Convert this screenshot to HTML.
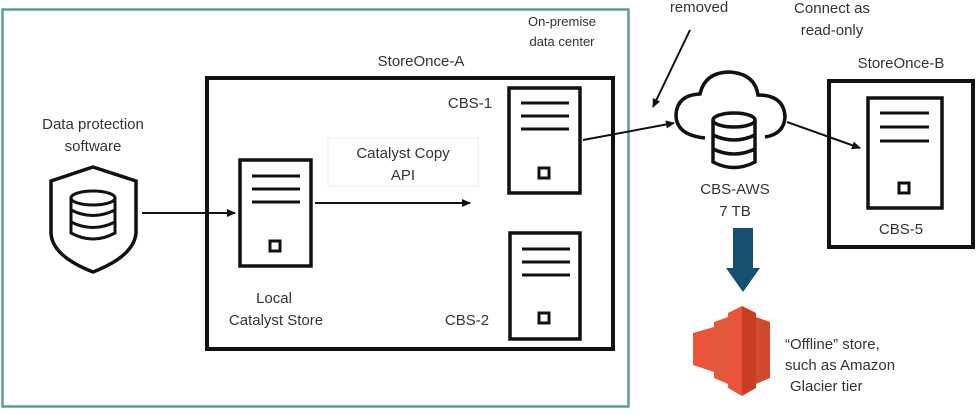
<!DOCTYPE html>
<html><head><style>
body{margin:0;background:#fff;}
svg text{font-family:"Liberation Sans",sans-serif;fill:#333;}
</style></head><body>
<svg width="977" height="410" viewBox="0 0 977 410" xmlns="http://www.w3.org/2000/svg">
<defs><marker id="a" markerWidth="10" markerHeight="10" refX="8" refY="4" orient="auto" markerUnits="userSpaceOnUse"><path d="M0,0 L9,4 L0,8 z" fill="#111"/></marker></defs>
<rect x="2.5" y="9.5" width="626" height="397" fill="none" stroke="#5e9e8c" stroke-width="2.5"/>
<rect x="207" y="78" width="406" height="271" fill="none" stroke="#111" stroke-width="4"/>
<rect x="829" y="81" width="144" height="166" fill="none" stroke="#111" stroke-width="4"/>
<rect x="328" y="138" width="150" height="48" fill="#fff" stroke="#eee"/>
<g fill="none" stroke="#111" stroke-width="3.5">
<rect x="240" y="160" width="71" height="106"/>
<rect x="509" y="88" width="71" height="105"/>
<rect x="510" y="233" width="70" height="106"/>
<rect x="868" y="98" width="74" height="110"/>
</g>
<g stroke="#111" stroke-width="3">
<line x1="252" y1="176" x2="300" y2="176"/><line x1="252" y1="189" x2="300" y2="189"/><line x1="252" y1="202" x2="300" y2="202"/>
<line x1="521" y1="103" x2="569" y2="103"/><line x1="521" y1="116" x2="569" y2="116"/><line x1="521" y1="129" x2="569" y2="129"/>
<line x1="522" y1="249" x2="570" y2="249"/><line x1="522" y1="262" x2="570" y2="262"/><line x1="522" y1="275" x2="570" y2="275"/>
<line x1="880" y1="113" x2="929" y2="113"/><line x1="880" y1="127" x2="929" y2="127"/><line x1="880" y1="141" x2="929" y2="141"/>
</g>
<g fill="none" stroke="#111" stroke-width="3">
<rect x="270" y="241" width="10" height="10"/><rect x="539" y="168" width="10" height="10"/><rect x="539" y="313" width="10" height="10"/><rect x="899" y="183" width="10" height="10"/>
</g>
<!-- shield -->
<path d="M93,167 L136,181 L136,233 Q134,256 93,272 Q52,256 51,233 L51,181 Z" fill="none" stroke="#111" stroke-width="3.5"/>
<g fill="none" stroke="#111" stroke-width="3">
<ellipse cx="93" cy="198" rx="22" ry="7"/>
<path d="M71,198 V233 Q93,245 115,233 V198"/>
<path d="M71,210 Q93,221 115,210 M71,222 Q93,233 115,222"/>
</g>
<!-- cloud + db -->
<path d="M705,138 Q676,135 676,115 Q677,95 700,94 Q705,72 730,72 Q755,74 758,95 Q784,95 785,117 Q784,134 765,137" fill="none" stroke="#111" stroke-width="3.5"/>
<g fill="none" stroke="#111" stroke-width="3.5">
<ellipse cx="734" cy="120" rx="21" ry="7"/>
<path d="M713,120 V162 Q734,173 755,162 V120"/>
<path d="M713,135 Q734,145 755,135 M713,149 Q734,159 755,149"/>
</g>
<g stroke="#111" stroke-width="2" fill="none" marker-end="url(#a)">
<line x1="142" y1="213" x2="235" y2="213"/>
<line x1="315" y1="203" x2="470" y2="203"/>
<line x1="583" y1="140" x2="674" y2="123"/>
<line x1="787" y1="122" x2="860" y2="148"/>
<line x1="690" y1="30" x2="653" y2="107"/>
</g>
<!-- blue arrow -->
<path d="M733,228 H753 V268 H760 L743,292 L726,268 H733 Z" fill="#15506f"/>
<!-- glacier -->
<g>
<polygon points="728,313 742,306 742,396 728,388" fill="#e8553a"/>
<polygon points="742,306 756,313 756,388 742,396" fill="#c83d23"/>
<polygon points="714,322 728,317 728,384 714,378" fill="#e25a3c"/>
<polygon points="756,317 770,322 770,378 756,384" fill="#d2492e"/>
<polygon points="693,333 714,327 714,372 693,365" fill="#e8553a"/>
</g>
<g font-size="15">
<text x="93" y="129" text-anchor="middle">Data protection</text>
<text x="93" y="151" text-anchor="middle">software</text>
<text x="421" y="66" text-anchor="middle">StoreOnce-A</text>
<text x="403" y="158" text-anchor="middle">Catalyst Copy</text>
<text x="403" y="180" text-anchor="middle">API</text>
<text x="274" y="303" text-anchor="middle">Local</text>
<text x="276" y="325" text-anchor="middle">Catalyst Store</text>
<text x="470" y="108" text-anchor="middle">CBS-1</text>
<text x="467" y="325" text-anchor="middle">CBS-2</text>
<text x="735" y="194" text-anchor="middle">CBS-AWS</text>
<text x="735" y="216" text-anchor="middle">7 TB</text>
<text x="901" y="68" text-anchor="middle">StoreOnce-B</text>
<text x="901" y="234" text-anchor="middle">CBS-5</text>
<text x="699" y="12" text-anchor="middle">removed</text>
<text x="832" y="13" text-anchor="middle">Connect as</text>
<text x="832" y="35" text-anchor="middle">read-only</text>
<text x="785" y="349">“Offline” store,</text>
<text x="785" y="370">such as Amazon</text>
<text x="790" y="391">Glacier tier</text>
</g>
<g font-size="13">
<text x="562" y="26" text-anchor="middle">On-premise</text>
<text x="562" y="46" text-anchor="middle">data center</text>
</g>
</svg>
</body></html>
